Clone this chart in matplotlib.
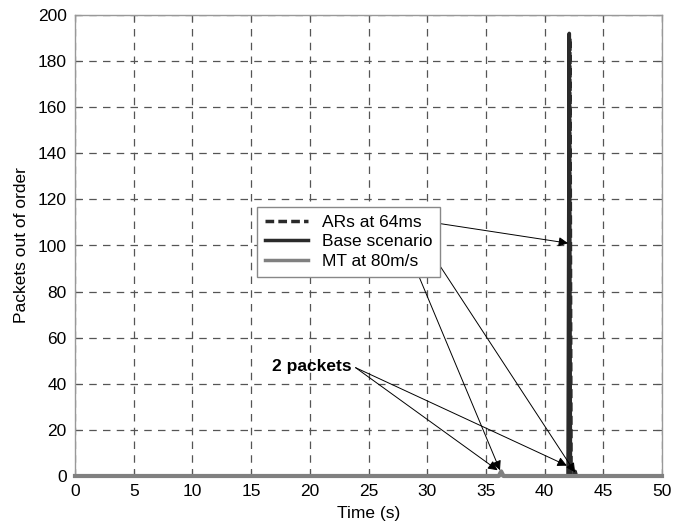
import matplotlib
matplotlib.use("Agg")
import matplotlib.pyplot as plt

plt.rcParams['font.family'] = ['Liberation Sans', 'DejaVu Sans']

# Data
ars_time = [0, 42.05, 42.15, 42.25, 50]
ars_vals = [0, 0, 190, 0, 0]
base_time = [0, 42.0, 42.1, 42.2, 42.5, 42.6, 42.7, 50]
base_vals = [0, 0, 192, 0, 0, 2, 0, 0]
mt_time = [0, 36.1, 36.3, 36.5, 50]
mt_vals = [0, 0, 2, 0, 0]

labels = ["ARs at 64ms", "Base scenario", "MT at 80m/s"]
xticks = list(range(0, 51, 5))
yticks = list(range(0, 201, 20))

fig = plt.figure(figsize=(6.85, 5.23), dpi=100)
ax = fig.add_axes([75/685, 1-476/523, (662-75)/685, (476-15)/523])

l1, = ax.plot(ars_time, ars_vals, color='#2a2a2a', lw=2.6, ls=(0, (2.5, 1.2)), label=labels[0], zorder=3)
l2, = ax.plot(base_time, base_vals, color='#2a2a2a', lw=2.6, ls='-', label=labels[1], zorder=3)
l3, = ax.plot(mt_time, mt_vals, color='#808080', lw=3, ls='-', label=labels[2], zorder=4, clip_on=False)

ax.set_xlim(0, 50)
ax.set_ylim(0, 200)
ax.set_xticks(xticks)
ax.set_yticks(yticks)
ax.tick_params(direction='in', length=4, labelsize=12.5, color='#555555', pad=6,
               top=True, right=True)
ax.grid(True, color='#555555', ls=(0, (6, 5)), lw=0.9)
for s in ax.spines.values():
    s.set_color('#999999')
    s.set_linewidth(1.0)

ax.set_xlabel("Time (s)", fontsize=12.5, labelpad=5)
ax.set_ylabel("Packets out of order", fontsize=12.5, labelpad=6)

leg = ax.legend(handles=[l1, l2, l3], loc='upper left',
                bbox_to_anchor=(257/685, 1-207/523), bbox_transform=fig.transFigure,
                borderaxespad=0, fontsize=12.5, fancybox=False, framealpha=1,
                edgecolor='#888888', handlelength=2.5, labelspacing=0.25,
                borderpad=0.45, handletextpad=0.8)
leg.get_frame().set_linewidth(1.0)
for h in leg.legend_handles:
    h.set_linewidth(2.5)

arrow = dict(arrowstyle='-|>', color='black', lw=0.7, mutation_scale=14, shrinkA=0, shrinkB=0)
ax.annotate('', xy=(42.0, 101), xytext=(423/685, 1-221/523), textcoords='figure fraction', arrowprops=arrow, zorder=5)
ax.annotate('', xy=(42.6, 1.5), xytext=(425/685, 1-243/523), textcoords='figure fraction', arrowprops=arrow, zorder=5)
ax.annotate('', xy=(36.2, 2.5), xytext=(415/685, 1-267/523), textcoords='figure fraction', arrowprops=arrow, zorder=5)

ax.text(20.2, 47.3, "2 packets", fontsize=12.5, fontweight='bold', ha='center', va='center')
ax.annotate('', xy=(36.0, 2.5), xytext=(23.9, 47.0), arrowprops=arrow, zorder=5)
ax.annotate('', xy=(41.9, 4.5), xytext=(23.9, 47.0), arrowprops=arrow, zorder=5)

fig.savefig("out.png", dpi=100)
